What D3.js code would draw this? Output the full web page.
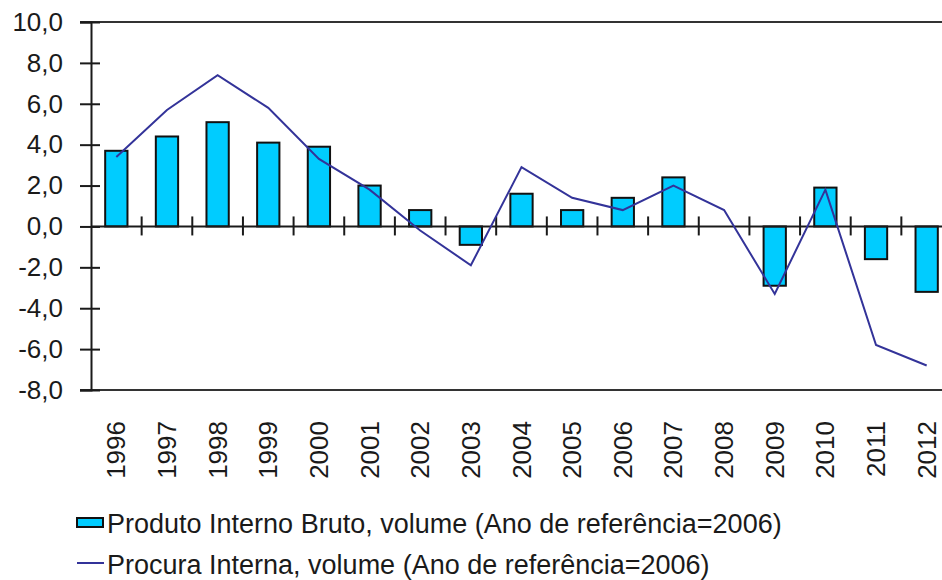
<!DOCTYPE html>
<html>
<head>
<meta charset="utf-8">
<script src="https://cdn.jsdelivr.net/npm/d3@7"></script>
<style>
body{margin:0;background:#fff}
text{font-family:"Liberation Sans",Arial,sans-serif;fill:#1a1a1a}
</style>
</head>
<body>
<svg id="svg" width="942" height="580"></svg>
<script>
var years=["1996","1997","1998","1999","2000","2001","2002","2003","2004","2005","2006","2007","2008","2009","2010","2011","2012"];
var pib=[3.7,4.4,5.1,4.1,3.9,2.0,0.8,-0.9,1.6,0.8,1.4,2.4,0.0,-2.9,1.9,-1.6,-3.2];
var procura=[3.4,5.7,7.4,5.8,3.3,1.8,-0.2,-1.9,2.9,1.4,0.8,2.0,0.8,-3.3,1.8,-5.8,-6.8];
var yTicks=[-8,-6,-4,-2,0,2,4,6,8,10];
var legendLabels=["Produto Interno Bruto, volume (Ano de referência=2006)","Procura Interna, volume (Ano de referência=2006)"];

var mLeft=91,mTop=22,mRight=952,mBottom=390;
var svg=d3.select("#svg");

var x=d3.scaleBand().domain(years).range([mLeft,mRight]);
var y=d3.scaleLinear().domain([-8,10]).range([mBottom,mTop]);
var fmt=function(d){return d3.format(".1f")(d).replace(".",",").replace("−","-")};

// frame
svg.append("line").attr("x1",80).attr("x2",mRight).attr("y1",mTop).attr("y2",mTop)
    .attr("stroke","#333").attr("stroke-width",2)
svg.append("line").attr("x1",80).attr("x2",mRight).attr("y1",mBottom).attr("y2",mBottom)
    .attr("stroke","#333").attr("stroke-width",2)

// y axis
var yAxis=svg.append("g").attr("transform","translate("+mLeft+",0)")
    .call(d3.axisLeft(y).tickValues(yTicks).tickFormat(fmt).tickSize(11).tickPadding(17))
yAxis.select(".domain").attr("stroke","#1a1a1a").attr("stroke-width",2)
yAxis.selectAll(".tick line").attr("stroke","#1a1a1a").attr("stroke-width",2).attr("x2",9).attr("x1",-11)
yAxis.selectAll(".tick text").style("font-size","26px").style("font-family","'Liberation Sans',Arial,sans-serif").attr("fill","#1a1a1a")

// bars
svg.selectAll(".bar")
    .data(pib).enter().append("rect")
        .attr("class","bar")
        .attr("x",(d,i)=>x(years[i])+x.bandwidth()*0.28)
        .attr("width",x.bandwidth()*0.44)
        .attr("y",d=>y(Math.max(0,d)))
        .attr("height",d=>Math.abs(y(d)-y(0)))
        .attr("fill","#00ccff")
        .attr("stroke","#111")
        .attr("stroke-width",2)

// zero axis with ticks at category boundaries
svg.append("line").attr("x1",mLeft).attr("x2",mRight).attr("y1",y(0)).attr("y2",y(0))
    .attr("stroke","#1a1a1a").attr("stroke-width",2)
svg.selectAll(".xtick")
    .data(years.slice(1)).enter().append("line")
        .attr("x1",d=>x(d)).attr("x2",d=>x(d))
        .attr("y1",y(0)-10).attr("y2",y(0)+9)
        .attr("stroke","#1a1a1a").attr("stroke-width",2)

// line
var line=d3.line().x((d,i)=>x(years[i])+x.bandwidth()/2).y(d=>y(d));
svg.append("path").datum(procura)
    .attr("d",line)
    .attr("fill","none")
    .attr("stroke","#333399")
    .attr("stroke-width",2)

// year labels
svg.selectAll(".year")
    .data(years).enter().append("text")
        .attr("transform",d=>"translate("+(x(d)+x.bandwidth()/2+9)+",421) rotate(-90)")
        .attr("text-anchor","end")
        .style("font-size","26px")
        .text(d=>d)

// legend
var lg=svg.append("g");
lg.append("rect").attr("x",77).attr("y",518).attr("width",26).attr("height",9)
    .attr("fill","#00ccff").attr("stroke","#111").attr("stroke-width",2)
lg.append("line").attr("x1",77).attr("x2",104).attr("y1",563).attr("y2",563)
    .attr("stroke","#333399").attr("stroke-width",2)
lg.selectAll(".lt")
    .data(legendLabels).enter().append("text")
        .attr("x",107)
        .attr("y",(d,i)=>533+i*41)
        .style("font-size","27px")
        .text(d=>d)
</script>
</body>
</html>
